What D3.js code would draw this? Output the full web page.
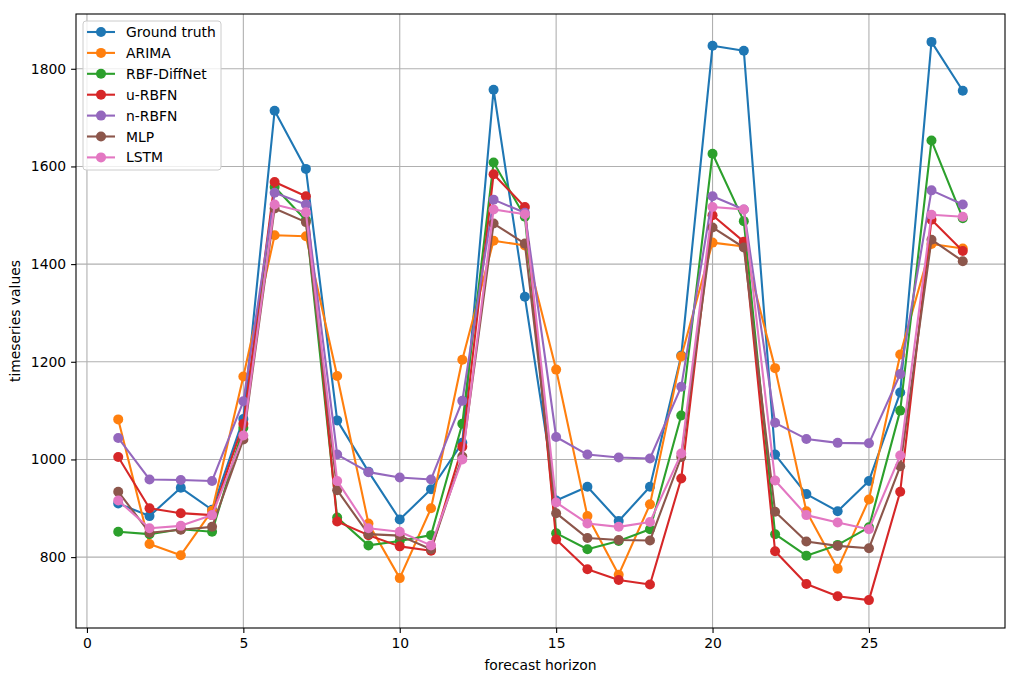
<!DOCTYPE html>
<html>
<head>
<meta charset="utf-8">
<script src="https://cdn.jsdelivr.net/npm/d3@7"></script>
<style>
  body { margin: 0; background: #fff; }
  svg { font-family: "DejaVu Sans", sans-serif; display: block; }
</style>
</head>
<body>
<svg id="chart" width="1018" height="682"></svg>
<script>
// forecast horizon steps 1..28
const horizon = d3.range(1, 29);

const seriesNames = ['Ground truth', 'ARIMA', 'RBF-DiffNet', 'u-RBFN', 'n-RBFN', 'MLP', 'LSTM'];
const seriesColors = ['#1f77b4', '#ff7f0e', '#2ca02c', '#d62728', '#9467bd', '#8c564b', '#e377c2'];

const groundTruth = [910, 884, 942, 897, 1083, 1714, 1595, 1080, 975, 877, 939, 1034, 1757, 1333,
  916, 944, 874, 944, 1213, 1847, 1837, 1010, 929, 894, 956, 1137, 1855, 1755];
const arima = [1082, 827, 804, 895, 1170, 1459, 1457, 1171, 869, 757, 900, 1204, 1448, 1438,
  1184, 884, 764, 908, 1211, 1444, 1436, 1187, 894, 776, 918, 1215, 1441, 1432];
const rbfDiffNet = [852, 847, 857, 852, 1065, 1558, 1490, 881, 824, 833, 845, 1073, 1608, 1497,
  849, 816, 833, 857, 1090, 1626, 1488, 847, 803, 825, 861, 1100, 1653, 1494];
const uRbfn = [1005, 900, 890, 886, 1073, 1568, 1539, 873, 845, 822, 813, 1026, 1584, 1517,
  836, 775, 753, 744, 961, 1500, 1446, 812, 745, 720, 712, 934, 1491, 1427];
const nRbfn = [1044, 959, 958, 956, 1119, 1546, 1522, 1010, 974, 963, 959, 1120, 1532, 1505,
  1046, 1010, 1004, 1002, 1149, 1539, 1512, 1075, 1042, 1034, 1033, 1175, 1551, 1522];
const mlp = [934, 850, 856, 862, 1041, 1514, 1486, 937, 847, 844, 816, 1006, 1483, 1442,
  890, 839, 835, 834, 1005, 1475, 1434, 893, 832, 823, 818, 986, 1450, 1406];
const lstm = [916, 859, 864, 886, 1049, 1522, 1506, 956, 859, 852, 824, 1000, 1512, 1502,
  912, 869, 862, 872, 1012, 1517, 1512, 957, 886, 871, 857, 1008, 1501, 1497];

const xTicks = [0, 5, 10, 15, 20, 25];
const yTicks = [800, 1000, 1200, 1400, 1600, 1800];

const allSeries = [groundTruth, arima, rbfDiffNet, uRbfn, nRbfn, mlp, lstm];

const svg = d3.select('#chart');
const margin = { left: 76, right: 13, top: 14, bottom: 54 };
const width = +svg.attr('width'), height = +svg.attr('height');
const innerW = width - margin.left - margin.right,
  innerH = height - margin.top - margin.bottom;
const dotR = 5;

// matplotlib style 5% padding
const xMin = d3.min(horizon), xMax = d3.max(horizon);
const xPad = (xMax - xMin) * 0.05;
const allVals = allSeries.flat();
const yMin = d3.min(allVals), yMax = d3.max(allVals);
const yPad = (yMax - yMin) * 0.05;

const x = d3.scaleLinear().domain([xMin - xPad, xMax + xPad]).range([0, innerW]);
const y = d3.scaleLinear().domain([yMin - yPad, yMax + yPad]).range([innerH, 0]);

const g = svg.append('g').attr('transform', `translate(${margin.left},${margin.top})`);

// grid
g.append('g').selectAll('line').data(xTicks).enter().append('line')
  .attr('x1', d => x(d)).attr('x2', d => x(d)).attr('y1', 0).attr('y2', innerH)
  .attr('stroke', '#b0b0b0').attr('stroke-width', 1.1);
g.append('g').selectAll('line').data(yTicks).enter().append('line')
  .attr('y1', d => y(d)).attr('y2', d => y(d)).attr('x1', 0).attr('x2', innerW)
  .attr('stroke', '#b0b0b0').attr('stroke-width', 1.1);

// axes
const xAxis = g.append('g').attr('transform', `translate(0,${innerH})`)
  .call(d3.axisBottom(x).tickValues(xTicks).tickSize(4.9).tickPadding(4.9).tickFormat(d3.format('d')));
const yAxis = g.append('g')
  .call(d3.axisLeft(y).tickValues(yTicks).tickSize(4.9).tickPadding(4.9).tickFormat(d3.format('d')));
[xAxis, yAxis].forEach(a => {
  a.select('.domain').remove();
  a.selectAll('text').attr('font-size', 13.9).attr('fill', '#000').attr('font-family', '"DejaVu Sans", sans-serif');
  a.selectAll('line').attr('stroke', '#000').attr('stroke-width', 1.1);
});

// series
const line = d3.line().x((d, i) => x(horizon[i])).y(d => y(d));
allSeries.forEach((vals, k) => {
  const sg = g.append('g');
  sg.append('path').datum(vals)
    .attr('d', line).attr('fill', 'none')
    .attr('stroke', seriesColors[k]).attr('stroke-width', 2.1)
    .attr('stroke-linejoin', 'round');
  sg.selectAll('circle').data(vals).enter().append('circle')
    .attr('cx', (d, i) => x(horizon[i])).attr('cy', d => y(d))
    .attr('r', dotR).attr('fill', seriesColors[k]);
});

// frame
g.append('rect').attr('width', innerW).attr('height', innerH)
  .attr('fill', 'none').attr('stroke', '#000').attr('stroke-width', 1.1);

// axis labels
svg.append('text').attr('x', margin.left + innerW / 2).attr('y', 670)
  .attr('text-anchor', 'middle').attr('font-size', 13.9).text('forecast horizon');
svg.append('text').attr('transform', `translate(20,${margin.top + innerH / 2}) rotate(-90)`)
  .attr('text-anchor', 'middle').attr('font-size', 13.9).text('timeseries values');

// legend
const lg = g.append('g').attr('transform', 'translate(7,7)');
lg.append('rect').attr('width', 138).attr('height', 149).attr('rx', 3)
  .attr('fill', '#fff').attr('fill-opacity', 0.8).attr('stroke', '#cccccc');
seriesNames.forEach((name, k) => {
  const ry = 11 + k * 20.9;
  lg.append('line').attr('x1', 4).attr('x2', 32).attr('y1', ry).attr('y2', ry)
    .attr('stroke', seriesColors[k]).attr('stroke-width', 2.1);
  lg.append('circle').attr('cx', 18).attr('cy', ry).attr('r', dotR).attr('fill', seriesColors[k]);
  lg.append('text').attr('x', 43).attr('y', ry + 5).attr('font-size', 13.9).text(name);
});
</script>
</body>
</html>
